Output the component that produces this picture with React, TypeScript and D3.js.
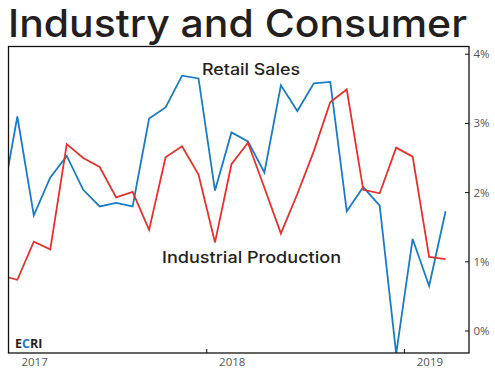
import React from "react";
import * as d3 from "d3";

// Monthly values, Dec 2016 .. Mar 2019 (month index -1 .. 26, 0 = Jan 2017)
const months: number[] = d3.range(-1, 27);
const retailSales: number[] = [
  1.77, 3.10, 1.67, 2.22, 2.53, 2.04, 1.80, 1.85, 1.80, 3.07, 3.23, 3.69, 3.65,
  2.03, 2.87, 2.74, 2.29, 3.55, 3.18, 3.58, 3.60, 1.73, 2.08, 1.81, -0.33, 1.33, 0.65, 1.73,
];
const industrialProduction: number[] = [
  0.80, 0.74, 1.29, 1.18, 2.70, 2.50, 2.37, 1.93, 2.01, 1.46, 2.51, 2.67, 2.26,
  1.28, 2.41, 2.72, 2.07, 1.41, 1.98, 2.60, 3.31, 3.49, 2.04, 1.99, 2.65, 2.52, 1.07, 1.04,
];
const yTicks: number[] = [0, 1, 2, 3, 4];
const yearTicks: number[] = [0, 12, 24];
const yearLabels: string[] = ["2017", "2018", "2019"];

const W = 495;
const H = 375;
const left = 8.5;
const right = 469;
const top = 46.5;
const bottom = 353;

export default function App() {
  const x = d3.scaleLinear().domain([0, 28]).range([9.1, 470.3]);
  const y = d3.scaleLinear().domain([0, 4]).range([331, 54.2]);
  const line = d3
    .line<number>()
    .x((_, i) => x(months[i] + 0.5))
    .y((d) => y(d));
  const font = "'Open Sans', 'DejaVu Sans', sans-serif";
  const headFont = "Inter, 'Open Sans', sans-serif";
  return (
    <svg width={W} height={H} style={{ position: "absolute", left: 0, top: 0 }}>
      <defs>
        <clipPath id="plotclip">
          <rect x={left} y={top} width={right - left} height={bottom - top} />
        </clipPath>
      </defs>
      <rect width={W} height={H} fill="#fff" />
      <text
        x={8}
        y={36.5}
        fontFamily={headFont}
        fontSize={38.5}
        fontWeight={500}
        fill="#231f20"
        textLength={459}
        lengthAdjust="spacingAndGlyphs"
      >
        Industry and Consumer
      </text>
      <g clipPath="url(#plotclip)">
        <path d={line(retailSales) || ""} fill="none" stroke="#1a7cc3" strokeWidth={1.8} strokeLinejoin="miter" />
        <path d={line(industrialProduction) || ""} fill="none" stroke="#e2332d" strokeWidth={1.8} strokeLinejoin="miter" />
      </g>
      <rect x={left} y={top} width={right - left} height={bottom - top} fill="none" stroke="#111" strokeWidth={1.3} />
      {yTicks.map((t) => (
        <g key={t}>
          <line x1={right - 4} x2={right} y1={y(t)} y2={y(t)} stroke="#111" strokeWidth={1} />
          <text x={473.5} y={y(t)} dy="0.35em" fontFamily={font} fontSize={11.5} fill="#555">
            {t}%
          </text>
        </g>
      ))}
      {yearTicks.map((m, i) => (
        <g key={m}>
          {i > 0 && <line x1={x(m)} x2={x(m)} y1={bottom - 4} y2={bottom} stroke="#111" strokeWidth={1} />}
          <text x={x(m) + 25.5} y={366} textAnchor="middle" fontFamily={font} fontSize={11.5} fill="#555">
            {yearLabels[i]}
          </text>
        </g>
      ))}
      <text x={251} y={75} textAnchor="middle" fontFamily={headFont} fontSize={15.5} fontWeight={500} fill="#231f20" textLength={98} lengthAdjust="spacingAndGlyphs">
        Retail Sales
      </text>
      <text x={251.5} y={262.5} textAnchor="middle" fontFamily={headFont} fontSize={16} fontWeight={500} fill="#231f20" textLength={179} lengthAdjust="spacingAndGlyphs">
        Industrial Production
      </text>
      <text x={15} y={347.5} fontFamily={font} fontSize={12.5} fontWeight={700} fill="#231f20">
        E<tspan fill="#1a7cc3">C</tspan>RI
      </text>
    </svg>
  );
}
